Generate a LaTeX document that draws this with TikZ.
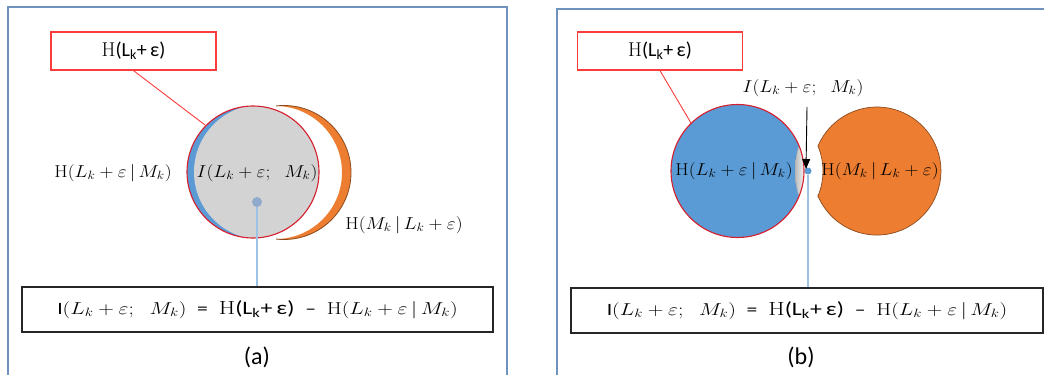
\documentclass[tikz,border=0pt]{standalone}
\usepackage{fontspec}
\usepackage{graphicx}
\usetikzlibrary{arrows.meta}
\newfontfamily\calfont{Carlito}
\definecolor{framecol}{RGB}{112,146,190}
\definecolor{redbox}{RGB}{250,60,60}
\definecolor{redcirc}{RGB}{215,30,45}
\definecolor{bluefill}{RGB}{91,155,213}
\definecolor{orangefill}{RGB}{237,125,49}
\definecolor{orangeedge}{RGB}{140,75,30}
\definecolor{grayfill}{RGB}{211,211,211}
\definecolor{dotcol}{RGB}{143,170,204}
\definecolor{linecol}{RGB}{157,195,230}
\newcommand{\wid}[1]{\scalebox{1.12}[1]{#1}}
\newcommand{\Hlk}{H{\calfont(L\textsubscript{k}+\,ε)}}
\newcommand{\Ilab}{$I(L_k+\varepsilon;\;\;M_k)$}
\newcommand{\HLM}{$\mathrm{H}(L_k+\varepsilon\,|\,M_k)$}
\newcommand{\HML}{$\mathrm{H}(M_k\,|\,L_k+\varepsilon)$}
\newcommand{\eqtext}{\scalebox{1.25}[1]{{\calfont I}$(L_k+\varepsilon;\;\;M_k)$\enspace{\calfont =}\enspace\scalebox{1.1}{\Hlk}\enspace{\calfont –}\enspace\HLM}}
\begin{document}
\begin{tikzpicture}[x=1pt,y=-1pt,
  frame/.style={draw=framecol,line width=1.6pt},
  hbox/.style={draw=redbox,line width=1.2pt,minimum width=165pt,minimum height=38pt,inner sep=0pt,font=\fontsize{20}{23}\selectfont},
  eqbox/.style={draw=black!85,line width=1.1pt,minimum width=471pt,minimum height=45pt,inner sep=0pt,font=\fontsize{17.28}{20}\selectfont},
  lbl/.style={inner sep=0pt,font=\fontsize{17.28}{19}\selectfont},
  captxt/.style={inner sep=0pt,font=\calfont\fontsize{24}{27}\selectfont},
  redconn/.style={draw=redbox,line width=0.9pt},
  blueconn/.style={draw=linecol,line width=1.1pt},
  circedge/.style={draw=redcirc,line width=1.1pt}
]
\useasboundingbox (0,0) rectangle (1044,375);
% frames
\draw[frame] (8,375) -- (8,7) -- (507,7) -- (507,375);
\draw[frame] (557,375) -- (557,9) -- (1044,9);

% ---------------- panel (a) ----------------
\fill[bluefill] (253,172) circle[radius=66];
\begin{scope}
  \clip (253,172) circle[radius=66];
  \fill[grayfill] (261.5,172) circle[radius=67.5];
\end{scope}
\draw[circedge] (253,172) circle[radius=66];
\begin{scope}
  \clip (276,90) rectangle (370,260);
  \fill[orangefill,even odd rule] (284,172.5) circle[radius=67] (275.5,172.5) circle[radius=66.5];
  \draw[orangeedge,line width=0.8pt] (284,172.5) circle[radius=67];
\end{scope}
\coordinate (ca) at (205,125);
\node[hbox] (ha) at (133.5,51) {\Hlk};
\draw[redconn] (ha.south) -- (ca);
\node[lbl] (hlma) at (113,173) {\wid{\HLM}};
\node[lbl] (ia) at (257,173) {\wid{\Ilab}};
\node[lbl] (hmla) at (404,225) {\wid{\HML}};
\node[eqbox] (eqa) at (257.5,309.5) {\eqtext};
\node[circle,fill=dotcol,minimum size=10pt,inner sep=0pt] (dota) at (257,202) {};
\draw[blueconn] (dota) -- (dota |- eqa.north);
\node[captxt] (capa) at (257,357) {(a)};

% ---------------- panel (b) ----------------
\fill[bluefill] (737.5,171) circle[radius=66.5];
\begin{scope}
  \clip (737.5,171) circle[radius=66.5];
  \clip (878,171) circle[radius=83];
  \shade[left color=gray!55,right color=white] (795,130) rectangle (806,212);
  \draw[gray!70,line width=0.6pt] (878,171) circle[radius=83];
\end{scope}
\draw[circedge] (737.5,171) circle[radius=66.5];
\filldraw[fill=orangefill,draw=orangeedge,line width=0.7pt]
  (818,196) arc[start angle=157.04,end angle=-157.04,radius=64]
  arc[start angle=-22.6,end angle=22.6,radius=65] -- cycle;
\coordinate (cb) at (691,123);
\node[hbox] (hb) at (660,51) {\Hlk};
\draw[redconn] (hb.south) -- (cb);
\node[lbl] (hlmb) at (734,171) {\wid{\HLM}};
\node[lbl] (hmlb) at (880,171) {\wid{\HML}};
\node[lbl] (ib) at (803,88) {\wid{\Ilab}};
\node[eqbox,minimum width=472pt] (eqb) at (807,310.5) {\eqtext};
\node[circle,fill=bluefill,minimum size=7pt,inner sep=0pt] (dotb) at (808,171) {};
\draw[blueconn] (dotb) -- (dotb |- eqb.north);
\coordinate (arrs) at (807,107);
\coordinate (arre) at (806,169);
\draw[line width=0.9pt,-{Triangle[length=10pt,width=8pt]}] (arrs) -- (arre);
\node[captxt] (capb) at (801,357) {(b)};
\end{tikzpicture}
\end{document}
